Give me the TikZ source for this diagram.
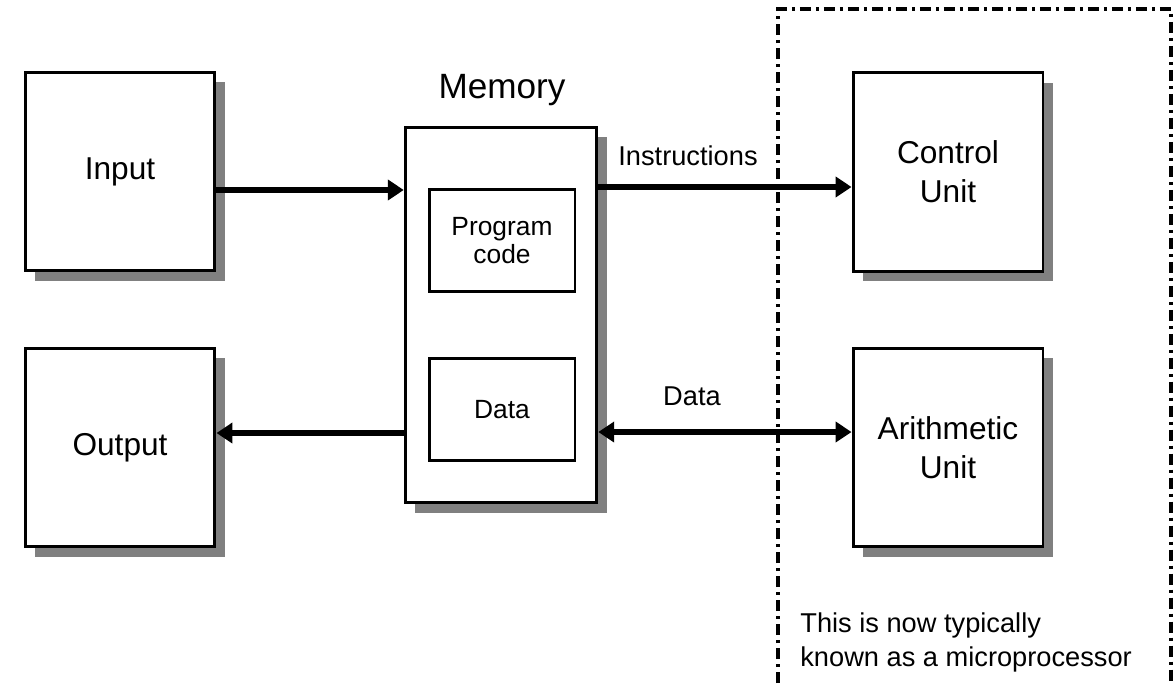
\documentclass[tikz,border=0pt]{standalone}
\usepackage{fontspec}
\setmainfont{Liberation Sans}
\usetikzlibrary{arrows.meta,shadows}

\begin{document}
\begin{tikzpicture}[x=0.02cm, y=-0.02cm,
  unit/.style={draw, line width=1.7pt, fill=white, inner sep=0pt, align=center,
    minimum width=3.8cm, minimum height=3.98cm, font=\fontsize{18}{22}\selectfont,
    drop shadow={shadow xshift=0.2cm, shadow yshift=-0.2cm, fill=black!50, opacity=1}},
  part/.style={draw, line width=1.7pt, fill=white, inner sep=0pt, align=center,
    minimum width=2.92cm, minimum height=2.05cm, font=\fontsize{15}{16}\selectfont},
  lbl/.style={inner sep=0pt, anchor=base, font=\fontsize{15.5}{19.5}\selectfont},
  flow/.style={line width=3.1pt, -{Triangle[length=0.32cm, width=0.4cm]}},
  flowboth/.style={line width=3.1pt, {Triangle[length=0.32cm, width=0.4cm]}-{Triangle[length=0.32cm, width=0.4cm]}},
  frame/.style={line width=2.2pt, dash pattern=on 0.22cm off 0.1cm on 0.06cm off 0.1cm}]
 \useasboundingbox (0,0) rectangle (1175,683);

 \draw[frame] (778,683) -- (778,9) -- (1171,9) -- (1171,683);

 \node[unit] (input) at (120,171.5) {Input};
 \node[unit] (output) at (120,447.5) {Output};
 \node[unit, minimum width=3.83cm, minimum height=7.52cm] (mem) at (501,315) {};
 \node[lbl, font=\fontsize{20}{24}\selectfont] (memlbl) at (502,98) {Memory};
 \node[part] (prog) at (502,240.7) {Program\\code};
 \node[part] (dat) at (502,409.7) {Data};
 \node[unit] (ctrl) at (948,172) {Control\\Unit};
 \node[unit] (alu) at (948,447.5) {Arithmetic\\Unit};

 \coordinate (inarr) at ([yshift=-0.37cm]input.east);
 \coordinate (outarr) at ([yshift=0.29cm]output.east);
 \coordinate (insarr) at ([yshift=-0.3cm]ctrl.west);
 \coordinate (datarr) at ([yshift=0.31cm]alu.west);

 \draw[flow] (inarr) -- (inarr -| mem.west);
 \draw[flow] (outarr -| mem.west) -- (outarr);
 \draw[flow] (insarr -| mem.east) -- (insarr);
 \draw[flowboth] (datarr -| mem.east) -- (datarr);

 \node[lbl] (inslbl) at (688,165) {Instructions};
 \node[lbl] (datlbl) at (692,405) {Data};
 \node[lbl, anchor=north west, align=left] (note) at (800,612) {This is now typically\\known as a microprocessor};
\end{tikzpicture}
\end{document}
